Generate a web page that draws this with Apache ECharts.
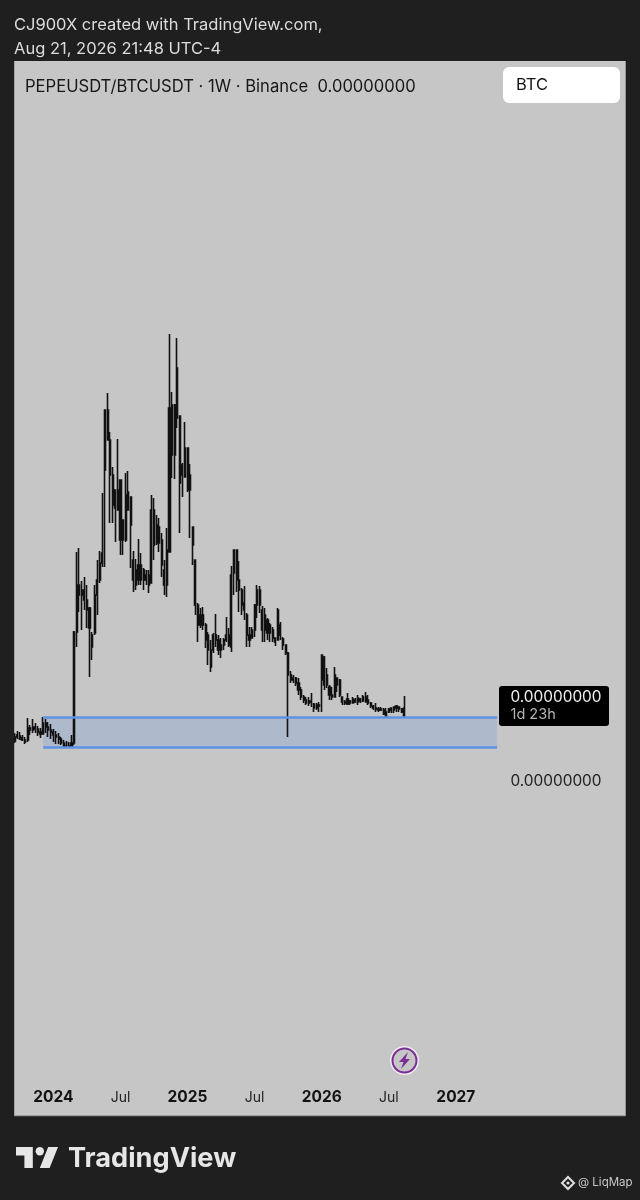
<!DOCTYPE html>
<html><head><meta charset="utf-8"><style>html,body{margin:0;padding:0;background:#1f1f1f}#c{width:640px;height:1200px}</style>
<script src="https://cdn.jsdelivr.net/npm/echarts@6/dist/echarts.min.js"></script></head>
<body><div id="c"></div><script>
// Weekly ratio candles, in units of 1e-13 (no price scale is legible in the picture)
const opens=[374,378,379,377,375,375,387,385,388,386,
383,381,392,388,385,383,380,378,376,372,
368,369,368,372,483,530,520,525,515,507,
480,482,520,535,552,645,705,675,640,607,
625,575,595,575,623,618,555,545,535,550,
535,535,540,532,605,590,572,575,545,530,
563,710,660,697,699,640,638,667,625,588,
555,510,490,500,490,480,465,465,480,475,
465,470,475,480,468,542,565,535,525,512,
500,480,477,485,510,525,505,485,495,482,
485,477,475,490,476,470,462,440,435,437,
432,425,418,415,412,414,411,407,410,435,
458,430,428,420,418,430,435,418,413,411,
414,412,415,413,416,414,418,415,412,409,
407,406,405,405,403,403,405,405,407,408,406,398];
const closes=[378,380,376,375,373,387,385,388,386,383,
381,392,388,385,383,380,378,376,372,368,
369,368,372,483,530,520,525,515,505,487,
468,520,535,552,562,705,675,640,610,625,
605,635,575,620,605,590,535,530,550,535,
545,540,530,605,570,572,588,550,530,565,
707,660,710,747,632,650,667,625,640,570,
510,490,500,490,475,465,448,480,475,465,
470,475,480,470,540,565,535,525,510,505,
480,475,485,510,525,510,485,500,482,490,
477,473,505,480,470,462,440,435,437,432,
425,418,415,412,414,413,407,410,409,460,
430,440,420,418,440,437,420,413,412,416,
412,416,413,417,414,418,413,412,409,407,
406,405,406,401,398,406,407,408,409,406,403,407];
const lows=[372,376,375,374,371,373,380,382,382,379,
377,381,382,378,376,373,371,371,370,367,
367,367,367,370,468,503,485,505,487,438,
455,480,500,532,548,548,675,592,592,573,
605,560,560,573,605,547,523,525,530,530,
525,530,522,532,555,570,563,538,520,518,
563,637,636,687,582,618,638,623,577,550,
500,473,487,485,467,450,443,462,468,460,
457,465,473,468,463,520,523,503,500,495,
468,468,477,478,497,502,473,473,475,473,
473,469,475,475,465,460,378,432,432,429,
420,415,412,410,409,408,403,405,403,403,
425,427,415,415,418,423,418,410,410,410,
410,412,412,410,412,413,413,410,407,405,
403,403,404,400,397,402,402,402,403,403,402,397];
const highs=[382,384,383,380,378,397,390,396,392,389,
387,398,396,393,391,386,384,382,378,375,
374,373,380,484,563,567,534,538,530,508,
483,530,555,564,622,705,722,683,648,625,
676,635,595,642,644,618,564,556,576,562,
547,545,545,620,617,600,597,582,555,587,
781,723,711,777,699,652,693,667,651,588,
555,512,507,508,492,483,475,482,501,480,
477,477,498,487,549,565,565,554,527,529,
502,488,488,511,530,529,509,507,497,492,
488,477,507,493,478,470,463,444,440,438,
437,428,420,418,418,422,412,412,413,460,
459,447,430,428,448,437,436,418,415,422,
415,418,417,420,417,420,423,420,413,410,
412,408,408,407,407,407,407,408,410,408,407,419];
const firstWeek='2023-09-25';
const weekCount=238;
const tickDates=['2024-01-08','2024-07-08','2025-01-06','2025-07-07','2026-01-05','2026-07-06','2027-01-04'];
const tickLabels=['2024','Jul','2025','Jul','2026','Jul','2027'];
const zoneTop=398, zoneBottom=368, zoneFrom=11, zoneTo=187;

const categories=[];
const t0=Date.parse(firstWeek+'T00:00:00Z');
for(let i=0;i<weekCount;i++)categories.push(new Date(t0+i*7*864e5).toISOString().slice(0,10));
const candles=opens.map((o,i)=>[o,closes[i],lows[i],highs[i]]);
const F='Inter, "Noto Sans", sans-serif';
const txt=(x,y,text,size,fill,extra)=>({type:'text',x,y,silent:true,z:10,style:Object.assign({text,fontSize:size,fontFamily:F,fill,verticalAlign:'middle'},extra||{})});

const chart=echarts.init(document.getElementById('c'),null,{renderer:'canvas',width:640,height:1200});
chart.setOption({
  animation:false,
  backgroundColor:'#1f1f1f',
  grid:{show:true,left:13.4,top:61,width:614.04,height:1055,backgroundColor:'#c6c6c6',borderColor:'#8a8a8a',borderWidth:0},
  xAxis:{type:'category',data:categories,boundaryGap:true,axisLine:{show:false},axisTick:{show:false},splitLine:{show:false},
    axisLabel:{inside:true,margin:11,hideOverlap:false,interval:(i,v)=>tickDates.includes(v),
      formatter:v=>{const s=tickLabels[tickDates.indexOf(v)];return s==='Jul'?`{m|${s}}`:`{y|${s}}`;},
      rich:{y:{fontFamily:F,fontSize:15.5,fontWeight:700,color:'#131313'},m:{fontFamily:F,fontSize:14,fontWeight:400,color:'#222'}}}},
  yAxis:{type:'value',min:-1,max:1054,show:false,splitLine:{show:false}},
  series:[
    {type:'line',data:[],z:1,silent:true,
      markArea:{silent:true,itemStyle:{color:'rgba(86,134,232,0.2)'},data:[[{coord:[zoneFrom,zoneTop]},{coord:[zoneTo,zoneBottom]}]]},
      markLine:{silent:true,symbol:'none',label:{show:false},lineStyle:{color:'#5f93e4',width:2.6,type:'solid'},
        data:[[{coord:[zoneFrom,zoneTop]},{coord:[zoneTo,zoneTop]}],[{coord:[zoneFrom,zoneBottom]},{coord:[zoneTo,zoneBottom]}]]}},
    {type:'candlestick',data:candles,z:3,barWidth:1.6,silent:true,
      itemStyle:{color:'#111111',color0:'#111111',borderColor:'#111111',borderColor0:'#111111',borderWidth:1.6}}
  ],
  graphic:{elements:[
    {type:'rect',z:9,silent:true,shape:{x:0,y:61,width:14.2,height:1056},style:{fill:'#1f1f1f'}},
    {type:'rect',z:9,silent:true,shape:{x:625.7,y:61,width:15,height:1056},style:{fill:'#1f1f1f'}},
    txt(14,25,'CJ900X created with TradingView.com,',16.5,'#dcdcdc'),
    txt(14,49.5,'Aug 21, 2026 21:48 UTC-4',16.5,'#dcdcdc'),
    txt(25,87,'PEPEUSDT/BTCUSDT · 1W · Binance  0.00000000',16.6,'#161616'),
    {type:'rect',z:9,silent:true,shape:{x:503,y:67,width:117,height:36,r:6},style:{fill:'#ffffff'}},
    txt(516,85.5,'BTC',16.5,'#161616'),
    {type:'rect',z:9,silent:true,shape:{x:499,y:686,width:110,height:40,r:3},style:{fill:'#000000'}},
    txt(510.5,697,'0.00000000',15.4,'#f0f0f0'),
    txt(510.5,715,'1d 23h',14.5,'#b4b4b4'),
    txt(510.5,781,'0.00000000',15.4,'#222222'),
    {type:'rect',z:9,silent:true,shape:{x:14.2,y:1115.3,width:611.5,height:1},style:{fill:'#8e8e8e'}},
    {type:'circle',z:9,silent:true,shape:{cx:404.5,cy:1060.5,r:14.5},style:{fill:'#f2eaf4'}},
    {type:'circle',z:9,silent:true,shape:{cx:404.5,cy:1060.5,r:12},style:{fill:'#c6c6c6',stroke:'#7b2e96',lineWidth:2}},
    {type:'polygon',z:10,silent:true,shape:{points:[[408,1052],[399,1062],[403.5,1062],[401,1069],[410,1059],[405.5,1059]]},style:{fill:'#7b2e96'}},
    {type:'polygon',z:10,silent:true,shape:{points:[[16,1147],[32.8,1147],[32.8,1168],[24.4,1168],[24.4,1155.4],[16,1155.4]]},style:{fill:'#e6e6e6'}},
    {type:'polygon',z:10,silent:true,shape:{points:[[49.6,1168],[39.8,1168],[48.2,1147],[58,1147]]},style:{fill:'#e6e6e6'}},
    {type:'circle',z:10,silent:true,shape:{cx:39.8,cy:1151.2,r:4.2},style:{fill:'#e6e6e6'}},
    txt(68,1159,'TradingView',27.2,'#e6e6e6',{fontWeight:700}),
    {type:'polygon',z:10,silent:true,shape:{points:[[568,1177],[574,1183],[568,1189],[562,1183]]},style:{fill:'none',stroke:'#e0e0e0',lineWidth:2}},
    {type:'circle',z:10,silent:true,shape:{cx:568,cy:1183,r:1.6},style:{fill:'#e0e0e0'}},
    txt(578,1183,'@ LiqMap',11.5,'#c8c8c8')
  ]}
});
</script></body></html>
